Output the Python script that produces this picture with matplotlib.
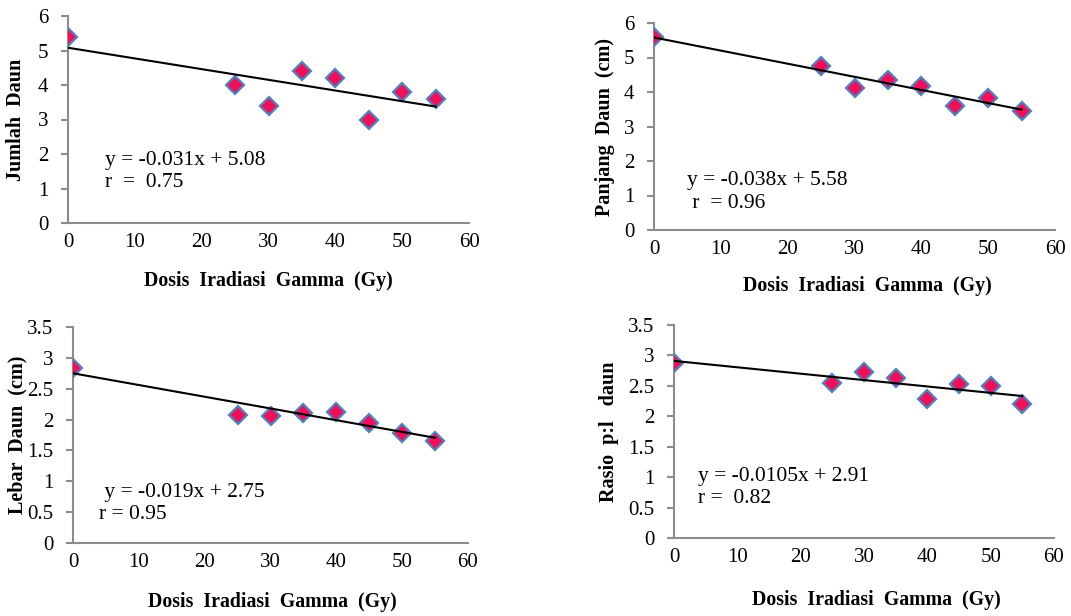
import numpy as np
import matplotlib.pyplot as plt

plt.rcParams['font.family'] = ['Liberation Serif', 'DejaVu Serif']

dose = [0, 25, 30, 35, 40, 45, 50, 55]

jumlah_daun = [5.4, 4.0, 3.4, 4.4, 4.2, 3.0, 3.8, 3.6]
panjang_daun = [5.6, 4.75, 4.12, 4.35, 4.18, 3.58, 3.83, 3.45]
lebar_daun = [2.83, 2.08, 2.06, 2.10, 2.12, 1.95, 1.78, 1.65]
rasio_daun = [2.88, 2.54, 2.73, 2.63, 2.29, 2.53, 2.49, 2.20]

slopes = [-0.031, -0.038, -0.019, -0.0105]
intercepts = [5.08, 5.58, 2.75, 2.91]

ylabels = ["Jumlah  Daun", "Panjang  Daun  (cm)", "Lebar  Daun  (cm)", "Rasio  p:l   daun"]
eq_texts = ["y = -0.031x + 5.08\nr  =  0.75",
            "y = -0.038x + 5.58\n r  = 0.96",
            " y = -0.019x + 2.75\nr = 0.95",
            "y = -0.0105x + 2.91\nr =  0.82"]

W, H = 1071, 616
fig = plt.figure(figsize=(W / 100, H / 100), dpi=100)

# pixel boxes (left, right, top, bottom) of each plot area
boxes = [(68, 469, 16, 223), (654, 1055, 23, 230), (73, 468, 327, 543), (674, 1054, 325, 538)]
ymaxes = [6, 6, 3.5, 3.5]
ysteps = [1, 1, 0.5, 0.5]
eq_pos = [(5.5, 1.5), (5.0, 1.1), (4.0, 0.64), (3.8, 0.83)]
ylabel_px = [16, 605, 17, 609]
xlabel_px = [(268, 281), (867, 286), (272, 602), (876, 600)]

series = [jumlah_daun, panjang_daun, lebar_daun, rasio_daun]
spine_col = "#8c8c8c"

for i in range(4):
    l, r, t, b = boxes[i]
    ax = fig.add_axes([l / W, (H - b) / H, (r - l) / W, (b - t) / H])
    ax.plot(dose, series[i], linestyle="none", marker="D", markersize=9,
            markerfacecolor="#F0105A", markeredgecolor="#4F81BD", markeredgewidth=1.6, zorder=3)
    xs = np.array([0, 55])
    ax.plot(xs, slopes[i] * xs + intercepts[i], color="black", lw=1.5, zorder=4)
    ax.set_xlim(0, 60)
    ax.set_ylim(0, ymaxes[i])
    ax.set_xticks(range(0, 61, 10))
    yt = np.arange(0, ymaxes[i] + 0.01, ysteps[i])
    ax.set_yticks(yt)
    ax.set_yticklabels([f"{v:g}" for v in yt])
    for s in ["top", "right"]:
        ax.spines[s].set_visible(False)
    for s in ["left", "bottom"]:
        ax.spines[s].set_color(spine_col)
        ax.spines[s].set_linewidth(1.5)
    ax.tick_params(axis="x", length=0, pad=7, labelsize=15)
    ax.tick_params(axis="y", length=5, width=1.5, color=spine_col, pad=9, labelsize=15)
    ax.spines["left"].set_bounds(0, ymaxes[i])
    ax.set_clip_on(False)
    ax.text(eq_pos[i][0], eq_pos[i][1], eq_texts[i], fontsize=15.5, ha="left", va="center",
            linespacing=1.25)
    ax.set_ylabel(ylabels[i], fontsize=14.5, fontweight="bold")
    ax.yaxis.set_label_coords((ylabel_px[i] - l) / (r - l), 0.5)
    ax.set_xlabel("Dosis  Iradiasi  Gamma  (Gy)", fontsize=14.3, fontweight="bold")
    ax.xaxis.set_label_coords((xlabel_px[i][0] - l) / (r - l), -(xlabel_px[i][1] - b) / (b - t))
    ax.xaxis.label.set_va("center")
    ax.yaxis.label.set_va("center")

fig.savefig("out.png", dpi=100)
